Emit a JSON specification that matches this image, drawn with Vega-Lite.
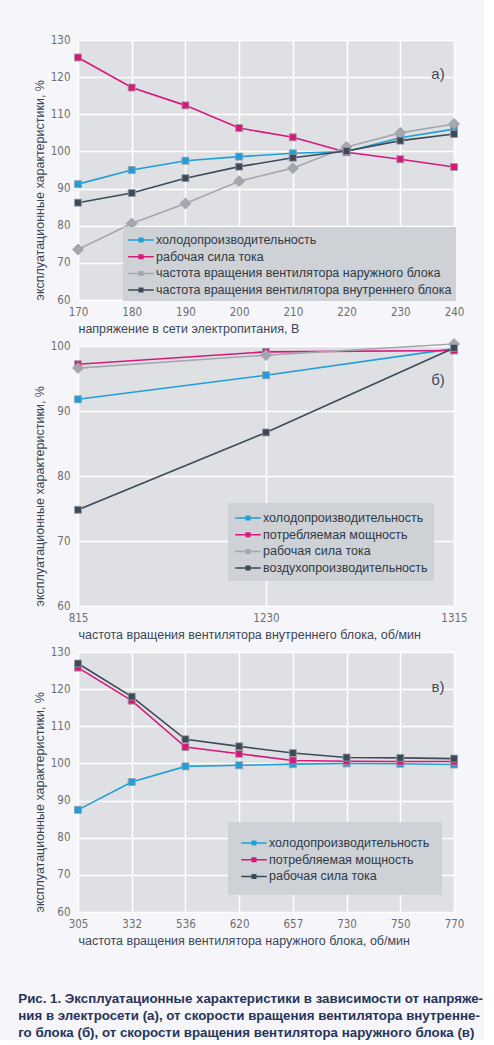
{
  "$schema": "https://vega.github.io/schema/vega-lite/v6.json",
  "background": "#f6f6fa",
  "padding": {"left": 18, "top": 34, "right": 0, "bottom": 0},
  "spacing": 46,
  "bounds": "flush",
  "resolve": {"scale": {"color": "independent", "fill": "independent", "shape": "independent"}, "legend": {"color": "independent", "fill": "independent", "shape": "independent"}},
  "title": {
    "text": ["Рис. 1. Эксплуатационные характеристики в зависимости от напряже-", "ния в электросети (а), от скорости вращения вентилятора внутренне-", "го блока (б), от скорости вращения вентилятора наружного блока (в)"],
    "orient": "bottom", "anchor": "start", "frame": "bounds",
    "font": "Liberation Sans", "fontWeight": "bold", "fontSize": 13.3,
    "color": "#27345a", "lineHeight": 17, "offset": 45, "dx": -15
  },
  "config": {
    "view": {"fill": "#dfe0e3", "stroke": null},
    "axis": {
      "grid": true, "gridColor": "#ffffff", "gridWidth": 1.5, "domain": false, "ticks": false,
      "labelFont": "DejaVu Sans Condensed, Liberation Sans", "labelFontSize": 11.5, "labelColor": "#6e6e72",
      "titleFont": "Liberation Sans", "titleFontSize": 12.5, "titleFontWeight": "normal", "titleColor": "#3a4658",
      "titleAnchor": "start"
    },
    "axisX": {"labelPadding": 6, "titlePadding": 5, "labelAngle": 0},
    "axisY": {"labelPadding": 8, "titlePadding": 4},
    "legend": {
      "title": null, "orient": "none", "fillColor": "#ced1d5",
      "labelFont": "Liberation Sans", "labelFontSize": 12.5, "labelColor": "#2f3a48",
      "symbolType": "M-1.6,0H1.6M-0.22,-0.22H0.22V0.22H-0.22ZM-0.22,-0.165H0.22M-0.22,-0.11H0.22M-0.22,-0.055H0.22M-0.22,0H0.22M-0.22,0.055H0.22M-0.22,0.11H0.22M-0.22,0.165H0.22",
      "symbolSize": 256, "symbolStrokeWidth": 1.5, "symbolOpacity": 1, "symbolOffset": 5,
      "labelOffset": 6, "rowPadding": 0.7, "padding": 4, "labelLimit": 400
    }
  },
  "datasets": {
    "a": [
      {"x": 170, "series": "холодопроизводительность", "value": 91.2},
      {"x": 180, "series": "холодопроизводительность", "value": 95.0},
      {"x": 190, "series": "холодопроизводительность", "value": 97.5},
      {"x": 200, "series": "холодопроизводительность", "value": 98.6},
      {"x": 210, "series": "холодопроизводительность", "value": 99.5},
      {"x": 220, "series": "холодопроизводительность", "value": 100.0},
      {"x": 230, "series": "холодопроизводительность", "value": 103.7},
      {"x": 240, "series": "холодопроизводительность", "value": 106.0},
      {"x": 170, "series": "рабочая сила тока", "value": 125.3},
      {"x": 180, "series": "рабочая сила тока", "value": 117.2},
      {"x": 190, "series": "рабочая сила тока", "value": 112.4},
      {"x": 200, "series": "рабочая сила тока", "value": 106.3},
      {"x": 210, "series": "рабочая сила тока", "value": 103.8},
      {"x": 220, "series": "рабочая сила тока", "value": 99.8},
      {"x": 230, "series": "рабочая сила тока", "value": 97.9},
      {"x": 240, "series": "рабочая сила тока", "value": 95.8},
      {"x": 170, "series": "частота вращения вентилятора наружного блока", "value": 73.6},
      {"x": 180, "series": "частота вращения вентилятора наружного блока", "value": 80.6},
      {"x": 190, "series": "частота вращения вентилятора наружного блока", "value": 86.0},
      {"x": 200, "series": "частота вращения вентилятора наружного блока", "value": 92.0},
      {"x": 210, "series": "частота вращения вентилятора наружного блока", "value": 95.5},
      {"x": 220, "series": "частота вращения вентилятора наружного блока", "value": 101.2},
      {"x": 230, "series": "частота вращения вентилятора наружного блока", "value": 105.0},
      {"x": 240, "series": "частота вращения вентилятора наружного блока", "value": 107.4},
      {"x": 170, "series": "частота вращения вентилятора внутреннего блока", "value": 86.2},
      {"x": 180, "series": "частота вращения вентилятора внутреннего блока", "value": 88.8},
      {"x": 190, "series": "частота вращения вентилятора внутреннего блока", "value": 92.8},
      {"x": 200, "series": "частота вращения вентилятора внутреннего блока", "value": 95.9},
      {"x": 210, "series": "частота вращения вентилятора внутреннего блока", "value": 98.3},
      {"x": 220, "series": "частота вращения вентилятора внутреннего блока", "value": 100.1},
      {"x": 230, "series": "частота вращения вентилятора внутреннего блока", "value": 102.9},
      {"x": 240, "series": "частота вращения вентилятора внутреннего блока", "value": 104.7}
    ],
    "b": [
      {"x": 815, "series": "холодопроизводительность", "value": 91.8},
      {"x": 1230, "series": "холодопроизводительность", "value": 95.5},
      {"x": 1315, "series": "холодопроизводительность", "value": 99.6},
      {"x": 815, "series": "потребляемая мощность", "value": 97.2},
      {"x": 1230, "series": "потребляемая мощность", "value": 99.1},
      {"x": 1315, "series": "потребляемая мощность", "value": 99.3},
      {"x": 815, "series": "рабочая сила тока", "value": 96.6},
      {"x": 1230, "series": "рабочая сила тока", "value": 98.6},
      {"x": 1315, "series": "рабочая сила тока", "value": 100.3},
      {"x": 815, "series": "воздухопроизводительность", "value": 74.8},
      {"x": 1230, "series": "воздухопроизводительность", "value": 86.7},
      {"x": 1315, "series": "воздухопроизводительность", "value": 99.7}
    ],
    "c": [
      {"x": 305, "series": "холодопроизводительность", "value": 87.5},
      {"x": 332, "series": "холодопроизводительность", "value": 95.0},
      {"x": 536, "series": "холодопроизводительность", "value": 99.2},
      {"x": 620, "series": "холодопроизводительность", "value": 99.5},
      {"x": 657, "series": "холодопроизводительность", "value": 99.8},
      {"x": 730, "series": "холодопроизводительность", "value": 100.0},
      {"x": 750, "series": "холодопроизводительность", "value": 99.9},
      {"x": 770, "series": "холодопроизводительность", "value": 99.7},
      {"x": 305, "series": "потребляемая мощность", "value": 125.8},
      {"x": 332, "series": "потребляемая мощность", "value": 116.9},
      {"x": 536, "series": "потребляемая мощность", "value": 104.4},
      {"x": 620, "series": "потребляемая мощность", "value": 102.6},
      {"x": 657, "series": "потребляемая мощность", "value": 100.8},
      {"x": 730, "series": "потребляемая мощность", "value": 100.6},
      {"x": 750, "series": "потребляемая мощность", "value": 100.5},
      {"x": 770, "series": "потребляемая мощность", "value": 100.5},
      {"x": 305, "series": "рабочая сила тока", "value": 126.9},
      {"x": 332, "series": "рабочая сила тока", "value": 118.0},
      {"x": 536, "series": "рабочая сила тока", "value": 106.5},
      {"x": 620, "series": "рабочая сила тока", "value": 104.6},
      {"x": 657, "series": "рабочая сила тока", "value": 102.8},
      {"x": 730, "series": "рабочая сила тока", "value": 101.6},
      {"x": 750, "series": "рабочая сила тока", "value": 101.5},
      {"x": 770, "series": "рабочая сила тока", "value": 101.3}
    ]
  },
  "vconcat": [
    {
      "width": 376, "height": 260,
      "encoding": {
        "x": {"field": "x", "type": "ordinal", "scale": {"type": "point", "padding": 0}, "axis": {"title": "напряжение в сети электропитания, В"}},
        "y": {"field": "value", "type": "quantitative", "scale": {"domain": [60, 130], "nice": false, "zero": false}, "axis": {"values": [60, 70, 80, 90, 100, 110, 120, 130], "title": "эксплуатационные характеристики, %"}}
      },
      "layer": [
        {
          "data": {"name": "a"},
          "mark": {"type": "line", "strokeWidth": 1.6},
          "encoding": {
            "color": {"field": "series", "type": "nominal", "scale": {"domain": ["холодопроизводительность", "рабочая сила тока", "частота вращения вентилятора наружного блока", "частота вращения вентилятора внутреннего блока"], "range": ["#1e9fda", "#d6197a", "#a4a8ae", "#3c4a5a"]}, "legend": {"legendX": 45, "legendY": 187}}
          }
        },
        {
          "data": {"name": "a"},
          "mark": {"type": "point", "filled": true, "size": 100, "opacity": 1, "stroke": "#9c9ca6", "strokeWidth": 0.8},
          "encoding": {
            "shape": {"field": "series", "type": "nominal", "legend": null, "scale": {"domain": ["частота вращения вентилятора наружного блока", "холодопроизводительность", "рабочая сила тока", "частота вращения вентилятора внутреннего блока"], "range": ["M0,-1.1L1.1,0L0,1.1L-1.1,0Z", "M-0.7,-0.7H0.7V0.7H-0.7Z", "M-0.7,-0.7H0.7V0.7H-0.7Z", "M-0.7,-0.7H0.7V0.7H-0.7Z"]}},
            "fill": {"field": "series", "type": "nominal", "legend": null, "scale": {"domain": ["холодопроизводительность", "рабочая сила тока", "частота вращения вентилятора наружного блока", "частота вращения вентилятора внутреннего блока"], "range": ["#1e9fda", "#d6197a", "#a4a8ae", "#3c4a5a"]}}
          }
        },
        {
          "data": {"values": [{"x": 240, "value": 120.8, "label": "а)"}]},
          "mark": {"type": "text", "fontSize": 15, "font": "Liberation Sans", "color": "#3c4a5a", "dx": -16, "align": "center", "baseline": "middle"},
          "encoding": {"text": {"field": "label"}}
        }
      ]
    },
    {
      "width": 376, "height": 260,
      "encoding": {
        "x": {"field": "x", "type": "ordinal", "scale": {"type": "point", "padding": 0}, "axis": {"title": "частота вращения вентилятора внутреннего блока, об/мин"}},
        "y": {"field": "value", "type": "quantitative", "scale": {"domain": [60, 100], "nice": false, "zero": false}, "axis": {"values": [60, 70, 80, 90, 100], "title": "эксплуатационные характеристики, %"}}
      },
      "layer": [
        {
          "data": {"name": "b"},
          "mark": {"type": "line", "strokeWidth": 1.6},
          "encoding": {
            "color": {"field": "series", "type": "nominal", "scale": {"domain": ["холодопроизводительность", "потребляемая мощность", "рабочая сила тока", "воздухопроизводительность"], "range": ["#1e9fda", "#d6197a", "#a4a8ae", "#3c4a5a"]}, "legend": {"legendX": 150, "legendY": 157, "padding": 6}}
          }
        },
        {
          "data": {"name": "b"},
          "mark": {"type": "point", "filled": true, "size": 100, "opacity": 1, "stroke": "#9c9ca6", "strokeWidth": 0.8},
          "encoding": {
            "shape": {"field": "series", "type": "nominal", "legend": null, "scale": {"domain": ["рабочая сила тока", "холодопроизводительность", "потребляемая мощность", "воздухопроизводительность"], "range": ["M0,-1.1L1.1,0L0,1.1L-1.1,0Z", "M-0.7,-0.7H0.7V0.7H-0.7Z", "M-0.7,-0.7H0.7V0.7H-0.7Z", "M-0.7,-0.7H0.7V0.7H-0.7Z"]}},
            "fill": {"field": "series", "type": "nominal", "legend": null, "scale": {"domain": ["холодопроизводительность", "потребляемая мощность", "рабочая сила тока", "воздухопроизводительность"], "range": ["#1e9fda", "#d6197a", "#a4a8ae", "#3c4a5a"]}}
          }
        },
        {
          "data": {"values": [{"x": 1315, "value": 94.7, "label": "б)"}]},
          "mark": {"type": "text", "fontSize": 15, "font": "Liberation Sans", "color": "#3c4a5a", "dx": -16, "align": "center", "baseline": "middle"},
          "encoding": {"text": {"field": "label"}}
        }
      ]
    },
    {
      "width": 376, "height": 260,
      "encoding": {
        "x": {"field": "x", "type": "ordinal", "scale": {"type": "point", "padding": 0}, "axis": {"title": "частота вращения вентилятора наружного блока, об/мин"}},
        "y": {"field": "value", "type": "quantitative", "scale": {"domain": [60, 130], "nice": false, "zero": false}, "axis": {"values": [60, 70, 80, 90, 100, 110, 120, 130], "title": "эксплуатационные характеристики, %"}}
      },
      "layer": [
        {
          "data": {"name": "c"},
          "mark": {"type": "line", "strokeWidth": 1.6},
          "encoding": {
            "color": {"field": "series", "type": "nominal", "scale": {"domain": ["холодопроизводительность", "потребляемая мощность", "рабочая сила тока"], "range": ["#1e9fda", "#d6197a", "#3c4a5a"]}, "legend": {"legendX": 150, "legendY": 170, "padding": 12}}
          }
        },
        {
          "data": {"name": "c"},
          "mark": {"type": "point", "filled": true, "size": 100, "opacity": 1, "stroke": "#9c9ca6", "strokeWidth": 0.8, "shape": "M-0.7,-0.7H0.7V0.7H-0.7Z"},
          "encoding": {
            "fill": {"field": "series", "type": "nominal", "legend": null, "scale": {"domain": ["холодопроизводительность", "потребляемая мощность", "рабочая сила тока"], "range": ["#1e9fda", "#d6197a", "#3c4a5a"]}}
          }
        },
        {
          "data": {"values": [{"x": 770, "value": 120.6, "label": "в)"}]},
          "mark": {"type": "text", "fontSize": 15, "font": "Liberation Sans", "color": "#3c4a5a", "dx": -16, "align": "center", "baseline": "middle"},
          "encoding": {"text": {"field": "label"}}
        }
      ]
    }
  ]
}
